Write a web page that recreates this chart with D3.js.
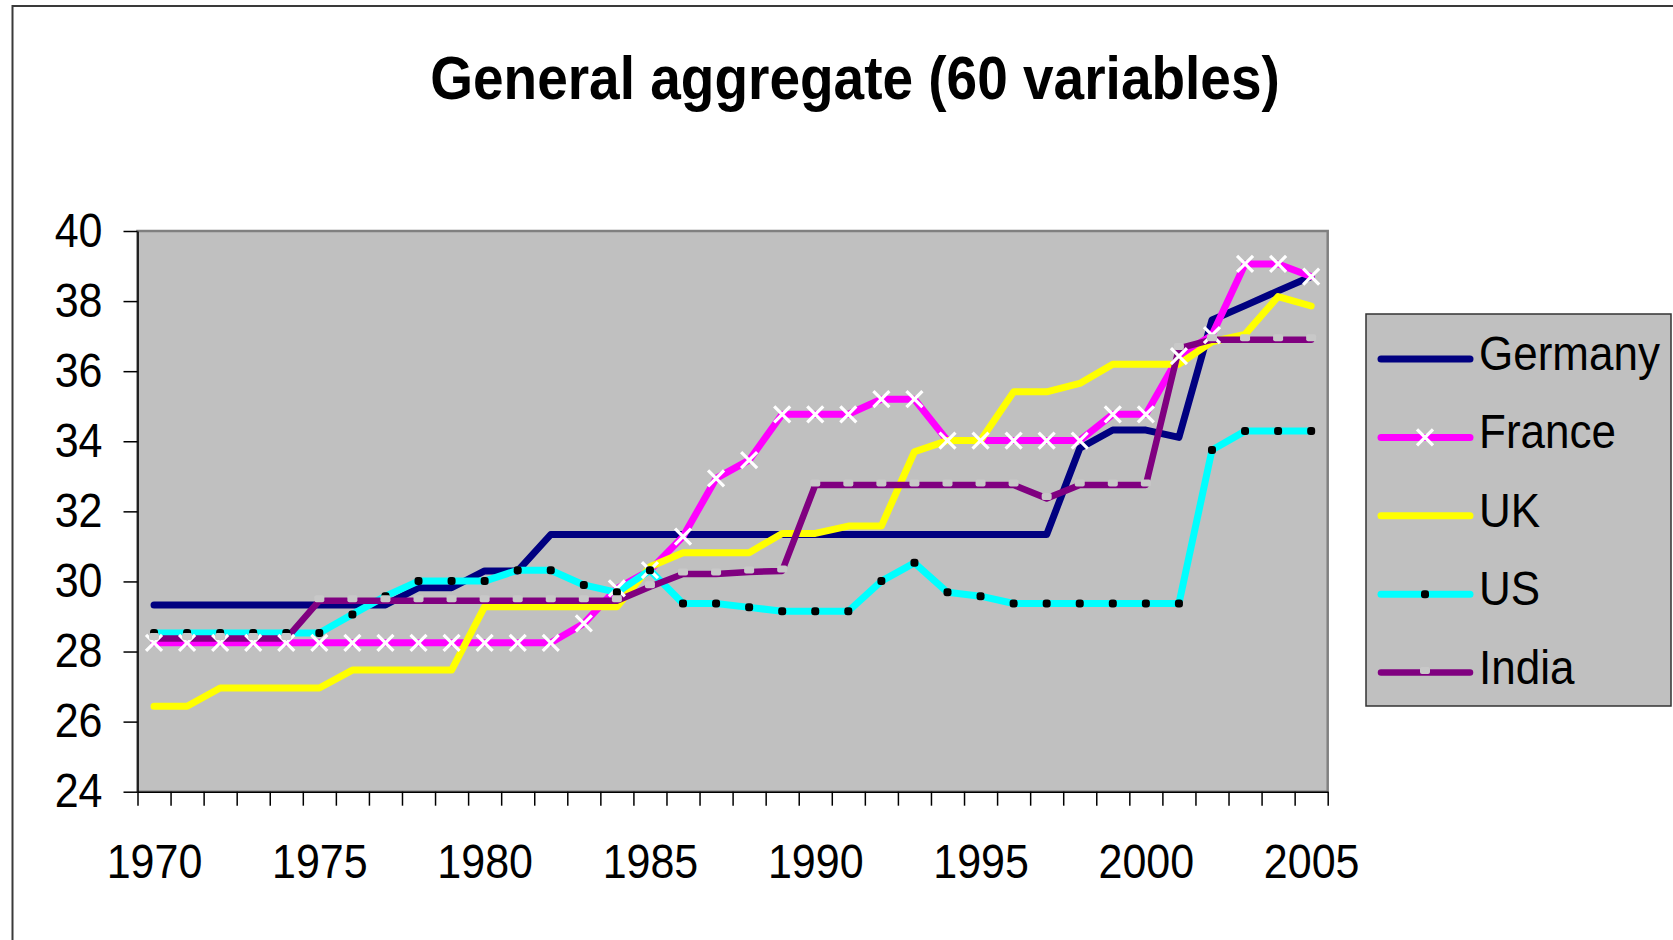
<!DOCTYPE html>
<html lang="en">
<head>
<meta charset="UTF-8">
<title>General aggregate (60 variables)</title>
<script src="https://d3js.org/d3.v7.min.js"></script>
<style>
body { margin: 0; background: #fff; }
svg { display: block; }
text { font-family: "Liberation Sans", Arial, Helvetica, sans-serif; fill: #000; }
.axis path, .axis line { stroke: #000; stroke-width: 1.5px; }
</style>
</head>
<body>
<svg width="1673" height="940"></svg>
<script>

var title = "General aggregate (60 variables)";

var years = [1970, 1971, 1972, 1973, 1974, 1975, 1976, 1977, 1978, 1979,
             1980, 1981, 1982, 1983, 1984, 1985, 1986, 1987, 1988, 1989,
             1990, 1991, 1992, 1993, 1994, 1995, 1996, 1997, 1998, 1999,
             2000, 2001, 2002, 2003, 2004, 2005];
var yearLabels = [1970, 1975, 1980, 1985, 1990, 1995, 2000, 2005];
var yTicks = [24, 26, 28, 30, 32, 34, 36, 38, 40];

var seriesNames = ["Germany", "France", "UK", "US", "India"];

// values
var germany = [29.33, 29.33, 29.33, 29.33, 29.33, 29.33, 29.33, 29.33, 29.82, 29.82,
               30.3, 30.3, 31.34, 31.34, 31.34, 31.34, 31.34, 31.34, 31.34, 31.34,
               31.34, 31.34, 31.34, 31.34, 31.34, 31.34, 31.34, 31.34, 33.8, 34.32,
               34.32, 34.11, 37.46, 37.87, 38.29, 38.7];
var france = [28.25, 28.25, 28.25, 28.25, 28.25, 28.25, 28.25, 28.25, 28.25, 28.25,
              28.25, 28.25, 28.25, 28.8, 29.8, 30.32, 31.28, 32.94, 33.46, 34.77,
              34.77, 34.77, 35.2, 35.2, 34.02, 34.02, 34.02, 34.02, 34.02, 34.77,
              34.77, 36.43, 37.03, 39.06, 39.06, 38.7];
var uk = [26.44, 26.44, 26.96, 26.96, 26.96, 26.96, 27.47, 27.47, 27.47, 27.47,
          29.28, 29.28, 29.28, 29.28, 29.28, 30.42, 30.82, 30.82, 30.82, 31.37,
          31.37, 31.58, 31.58, 33.7, 34.02, 34.02, 35.41, 35.41, 35.65, 36.2,
          36.2, 36.2, 36.84, 37.05, 38.13, 37.86];
var us = [28.53, 28.53, 28.53, 28.53, 28.53, 28.53, 29.06, 29.58, 30.01, 30.01,
          30.01, 30.32, 30.32, 29.9, 29.69, 30.32, 29.37, 29.37, 29.26, 29.15,
          29.15, 29.15, 30.01, 30.53, 29.69, 29.58, 29.37, 29.37, 29.37, 29.37,
          29.37, 29.37, 33.75, 34.29, 34.29, 34.29];
var india = [28.37, 28.37, 28.37, 28.37, 28.37, 29.45, 29.45, 29.45, 29.45, 29.45,
             29.45, 29.45, 29.45, 29.45, 29.45, 29.85, 30.21, 30.21, 30.27, 30.3,
             32.75, 32.75, 32.75, 32.75, 32.75, 32.75, 32.75, 32.37, 32.75, 32.75,
             32.75, 36.65, 36.9, 36.9, 36.9, 36.9];

var colors = ["#000080", "#ff00ff", "#ffff00", "#00ffff", "#800080"];
var markers = ["none", "cross", "none", "dot", "notch"];
var widths = [7, 7, 7, 7, 6.5];

var series = [germany, france, uk, us, india].map(function(v, i) {
  return {name: seriesNames[i], values: v, color: colors[i], marker: markers[i], width: widths[i]};
});

var svg = d3.select("svg");

// outer chart frame (right and bottom edges run off the picture)
svg.append("rect")
    .attr("x", 12.5).attr("y", 6)
    .attr("width", 1700).attr("height", 1000)
    .attr("fill", "#fff")
    .attr("stroke", "#3a3a3a")
    .attr("stroke-width", 2);

svg.append("text")
    .attr("transform", "translate(855,99) scale(1,1.12)")
    .attr("text-anchor", "middle")
    .style("font-size", "55px")
    .style("font-weight", "bold")
    .text(title);

// plot area box ("top" is taken by window.top, hence the prefixes)
var pLeft = 137.5, pRight = 1327.7, pTop = 231, pBottom = 791.7;

var x = d3.scalePoint().domain(years).range([pLeft, pRight]).padding(0.5);
var xb = d3.scaleLinear().domain([0, years.length]).range([pLeft, pRight]);
var y = d3.scaleLinear().domain([24, 40]).range([pBottom, pTop]);

svg.append("rect")
    .attr("x", pLeft).attr("y", pTop)
    .attr("width", pRight - pLeft).attr("height", pBottom - pTop)
    .attr("fill", "#c0c0c0")
    .attr("stroke", "#808080")
    .attr("stroke-width", 2.5);

// y axis
var yAxis = svg.append("g")
    .attr("class", "axis")
    .attr("transform", "translate(" + pLeft + ",0)")
    .call(d3.axisLeft(y).tickValues(yTicks).tickSize(14).tickSizeOuter(0).tickPadding(21));
yAxis.selectAll("text")
    .attr("transform", "scale(1,1.1)")
    .style("font-size", "43px")
    .style("font-family", "'Liberation Sans', Arial, sans-serif")
    .attr("fill", "#000");

// x axis: tick marks between categories, labels every 5 years
svg.append("g")
    .attr("class", "axis")
    .attr("transform", "translate(0," + pBottom + ")")
    .call(d3.axisBottom(xb).tickValues(d3.range(years.length + 1)).tickSize(14).tickSizeOuter(0).tickFormat(""));

var xLab = svg.append("g")
    .attr("transform", "translate(0," + pBottom + ")")
    .call(d3.axisBottom(x).tickValues(yearLabels).tickSize(0).tickPadding(48));
xLab.select(".domain").remove();
xLab.selectAll("text")
    .attr("transform", "scale(1,1.1)")
    .style("font-size", "43px")
    .style("font-family", "'Liberation Sans', Arial, sans-serif")
    .attr("fill", "#000");

var line = d3.line()
    .x(function(d, i) { return x(years[i]); })
    .y(function(d) { return y(d); });

// all lines first, markers on top (like the spreadsheet does it)
var plot = svg.append("g");
series.forEach(function(s) {
  plot.append("path")
      .attr("d", line(s.values))
      .attr("fill", "none")
      .attr("stroke", s.color)
      .attr("stroke-width", s.width)
      .attr("stroke-linejoin", "round")
      .attr("stroke-linecap", "round");
});

function drawMarker(g, type, cx, cy) {
  if (type == "cross") {
    g.append("path")
        .attr("d", "M-8,-8L8,8M-8,8L8,-8")
        .attr("transform", "translate(" + cx + "," + cy + ")")
        .attr("stroke", "#fff")
        .attr("stroke-width", 3.2)
        .attr("fill", "none");
  } else if (type == "dot") {
    g.append("rect")
        .attr("x", cx - 4).attr("y", cy - 4)
        .attr("width", 8).attr("height", 8)
        .attr("rx", 3)
        .attr("fill", "#000");
  } else if (type == "notch") {
    g.append("rect")
        .attr("x", cx - 5).attr("y", cy - 5.5)
        .attr("width", 10).attr("height", 7)
        .attr("rx", 2)
        .attr("fill", "#c8c8c8");
  }
}

series.forEach(function(s) {
  if (s.marker == "none") return;
  s.values.forEach(function(v, i) {
    drawMarker(plot, s.marker, x(years[i]), y(v));
  });
});

// legend
var legend = svg.append("g");
legend.append("rect")
    .attr("x", 1366).attr("y", 314)
    .attr("width", 305).attr("height", 392)
    .attr("fill", "#c0c0c0")
    .attr("stroke", "#333")
    .attr("stroke-width", 1.5);

series.forEach(function(s, i) {
  var ly = 359 + i * 78.4;
  legend.append("line")
      .attr("x1", 1381).attr("x2", 1470)
      .attr("y1", ly).attr("y2", ly)
      .attr("stroke", s.color)
      .attr("stroke-width", s.width)
      .attr("stroke-linecap", "round");
  drawMarker(legend, s.marker, 1425, ly);
  legend.append("text")
      .attr("transform", "translate(1479," + (ly + 11) + ") scale(1,1.1)")
      .style("font-size", "44px")
      .text(s.name);
});

</script>
</body>
</html>
